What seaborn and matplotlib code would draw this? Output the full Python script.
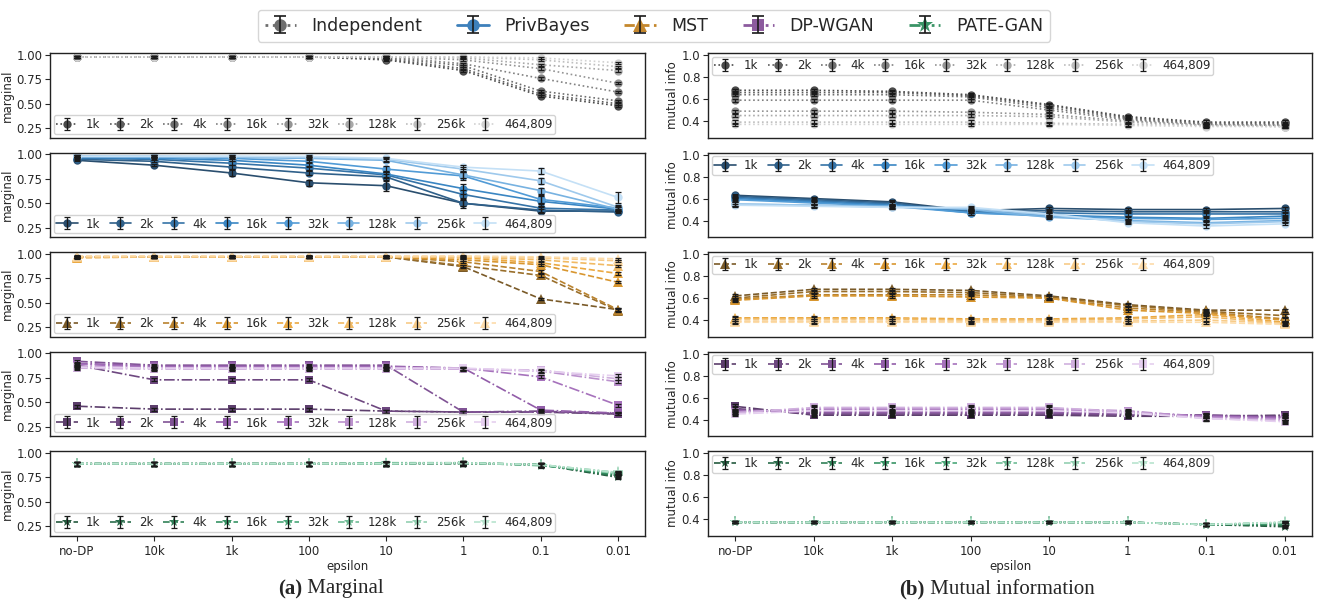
import numpy as np
import pandas as pd
import matplotlib
matplotlib.use("Agg")
import matplotlib.pyplot as plt
import seaborn as sns

# ---------------------------------------------------------------- data
eps_labels = ["no-DP", "10k", "1k", "100", "10", "1", "0.1", "0.01"]
sizes = ["1k", "2k", "4k", "16k", "32k", "128k", "256k", "464,809"]
methods = ["Independent", "PrivBayes", "MST", "DP-WGAN", "PATE-GAN"]

# marginal score, rows = training size, cols = epsilon
marg_independent = [
    [0.98, 0.98, 0.98, 0.98, 0.95, 0.84, 0.58, 0.48],
    [0.98, 0.98, 0.98, 0.98, 0.96, 0.86, 0.60, 0.50],
    [0.98, 0.98, 0.98, 0.98, 0.97, 0.89, 0.63, 0.53],
    [0.98, 0.98, 0.98, 0.98, 0.98, 0.91, 0.76, 0.62],
    [0.98, 0.98, 0.98, 0.98, 0.98, 0.95, 0.86, 0.71],
    [0.98, 0.98, 0.98, 0.98, 0.98, 0.97, 0.90, 0.84],
    [0.98, 0.98, 0.98, 0.98, 0.98, 0.98, 0.95, 0.88],
    [0.98, 0.98, 0.98, 0.98, 0.98, 0.98, 0.97, 0.92],
]
marg_privbayes = [
    [0.94, 0.89, 0.81, 0.71, 0.68, 0.50, 0.42, 0.42],
    [0.95, 0.93, 0.87, 0.81, 0.77, 0.50, 0.43, 0.41],
    [0.96, 0.95, 0.91, 0.86, 0.79, 0.59, 0.45, 0.43],
    [0.97, 0.96, 0.94, 0.89, 0.80, 0.65, 0.52, 0.44],
    [0.98, 0.97, 0.96, 0.93, 0.85, 0.78, 0.54, 0.45],
    [0.98, 0.98, 0.97, 0.96, 0.94, 0.79, 0.63, 0.44],
    [0.98, 0.98, 0.98, 0.97, 0.95, 0.85, 0.73, 0.46],
    [0.98, 0.98, 0.98, 0.98, 0.96, 0.87, 0.83, 0.56],
]
marg_privbayes_err = [
    [0.01, 0.01, 0.03, 0.03, 0.05, 0.03, 0.02, 0.01],
    [0.01, 0.01, 0.02, 0.02, 0.03, 0.05, 0.03, 0.01],
    [0.01, 0.01, 0.02, 0.02, 0.03, 0.05, 0.04, 0.01],
    [0.01, 0.01, 0.01, 0.02, 0.03, 0.05, 0.05, 0.02],
    [0.01, 0.01, 0.01, 0.01, 0.03, 0.04, 0.04, 0.02],
    [0.01, 0.01, 0.01, 0.01, 0.02, 0.03, 0.03, 0.02],
    [0.01, 0.01, 0.01, 0.01, 0.02, 0.02, 0.03, 0.02],
    [0.01, 0.01, 0.01, 0.01, 0.01, 0.02, 0.03, 0.06],
]
marg_mst = [
    [0.97, 0.97, 0.97, 0.97, 0.97, 0.87, 0.54, 0.43],
    [0.97, 0.97, 0.97, 0.97, 0.97, 0.88, 0.78, 0.42],
    [0.97, 0.97, 0.97, 0.97, 0.97, 0.92, 0.82, 0.43],
    [0.97, 0.97, 0.97, 0.97, 0.97, 0.94, 0.89, 0.71],
    [0.96, 0.97, 0.97, 0.97, 0.97, 0.96, 0.91, 0.80],
    [0.97, 0.97, 0.97, 0.97, 0.97, 0.97, 0.94, 0.88],
    [0.97, 0.97, 0.97, 0.97, 0.97, 0.97, 0.96, 0.93],
    [0.98, 0.98, 0.98, 0.98, 0.98, 0.98, 0.97, 0.95],
]
marg_dpwgan = [
    [0.46, 0.43, 0.43, 0.43, 0.41, 0.40, 0.40, 0.38],
    [0.88, 0.73, 0.73, 0.73, 0.41, 0.40, 0.41, 0.38],
    [0.92, 0.88, 0.88, 0.88, 0.88, 0.40, 0.40, 0.39],
    [0.90, 0.87, 0.87, 0.87, 0.87, 0.85, 0.42, 0.39],
    [0.89, 0.86, 0.86, 0.86, 0.86, 0.85, 0.76, 0.47],
    [0.87, 0.85, 0.85, 0.85, 0.85, 0.84, 0.82, 0.71],
    [0.85, 0.84, 0.84, 0.84, 0.84, 0.84, 0.83, 0.74],
    [0.86, 0.85, 0.85, 0.85, 0.85, 0.85, 0.82, 0.77],
]
marg_pategan = [
    [0.89, 0.89, 0.89, 0.89, 0.89, 0.89, 0.88, 0.75],
    [0.89, 0.89, 0.89, 0.89, 0.89, 0.89, 0.88, 0.76],
    [0.89, 0.89, 0.89, 0.89, 0.89, 0.90, 0.88, 0.77],
    [0.89, 0.89, 0.89, 0.89, 0.89, 0.90, 0.88, 0.78],
    [0.89, 0.89, 0.89, 0.89, 0.89, 0.90, 0.87, 0.79],
    [0.89, 0.89, 0.89, 0.89, 0.90, 0.90, 0.88, 0.80],
    [0.89, 0.89, 0.89, 0.89, 0.89, 0.89, 0.88, 0.79],
    [0.89, 0.89, 0.89, 0.89, 0.89, 0.90, 0.88, 0.80],
]

# mutual information score, rows = training size, cols = epsilon
mi_independent = [
    [0.68, 0.68, 0.67, 0.64, 0.55, 0.44, 0.39, 0.39],
    [0.66, 0.66, 0.66, 0.63, 0.54, 0.43, 0.38, 0.38],
    [0.64, 0.64, 0.64, 0.62, 0.52, 0.42, 0.37, 0.37],
    [0.59, 0.59, 0.59, 0.59, 0.50, 0.41, 0.37, 0.36],
    [0.49, 0.49, 0.49, 0.48, 0.46, 0.40, 0.36, 0.36],
    [0.45, 0.45, 0.45, 0.45, 0.44, 0.39, 0.36, 0.35],
    [0.39, 0.39, 0.39, 0.39, 0.38, 0.37, 0.36, 0.35],
    [0.37, 0.37, 0.37, 0.37, 0.37, 0.36, 0.35, 0.35],
]
mi_privbayes = [
    [0.63, 0.60, 0.57, 0.49, 0.51, 0.50, 0.50, 0.51],
    [0.62, 0.59, 0.56, 0.48, 0.49, 0.48, 0.48, 0.48],
    [0.61, 0.58, 0.55, 0.48, 0.47, 0.46, 0.46, 0.46],
    [0.60, 0.57, 0.54, 0.47, 0.45, 0.43, 0.42, 0.44],
    [0.59, 0.56, 0.53, 0.47, 0.44, 0.42, 0.41, 0.42],
    [0.55, 0.54, 0.53, 0.50, 0.43, 0.40, 0.38, 0.40],
    [0.55, 0.54, 0.52, 0.51, 0.45, 0.39, 0.37, 0.39],
    [0.54, 0.53, 0.52, 0.52, 0.46, 0.38, 0.35, 0.37],
]
mi_mst = [
    [0.62, 0.68, 0.68, 0.67, 0.62, 0.54, 0.49, 0.49],
    [0.60, 0.66, 0.66, 0.65, 0.61, 0.53, 0.48, 0.44],
    [0.59, 0.63, 0.63, 0.63, 0.60, 0.51, 0.47, 0.41],
    [0.58, 0.62, 0.62, 0.61, 0.60, 0.49, 0.46, 0.40],
    [0.42, 0.42, 0.42, 0.41, 0.41, 0.42, 0.45, 0.38],
    [0.41, 0.41, 0.41, 0.40, 0.40, 0.41, 0.43, 0.37],
    [0.39, 0.39, 0.39, 0.39, 0.39, 0.39, 0.40, 0.37],
    [0.38, 0.38, 0.38, 0.38, 0.38, 0.38, 0.38, 0.36],
]
mi_dpwgan = [
    [0.52, 0.44, 0.44, 0.44, 0.44, 0.43, 0.43, 0.44],
    [0.50, 0.45, 0.45, 0.45, 0.45, 0.44, 0.44, 0.43],
    [0.49, 0.46, 0.46, 0.46, 0.46, 0.45, 0.44, 0.42],
    [0.48, 0.47, 0.47, 0.47, 0.47, 0.46, 0.43, 0.42],
    [0.47, 0.49, 0.49, 0.49, 0.49, 0.47, 0.43, 0.41],
    [0.47, 0.50, 0.50, 0.50, 0.50, 0.48, 0.42, 0.40],
    [0.46, 0.51, 0.51, 0.51, 0.51, 0.47, 0.41, 0.39],
    [0.45, 0.48, 0.48, 0.48, 0.48, 0.46, 0.41, 0.38],
]
mi_pategan = [
    [0.37, 0.37, 0.37, 0.37, 0.37, 0.37, 0.35, 0.33],
    [0.37, 0.37, 0.37, 0.37, 0.37, 0.37, 0.35, 0.34],
    [0.37, 0.37, 0.37, 0.37, 0.37, 0.37, 0.35, 0.35],
    [0.37, 0.37, 0.37, 0.37, 0.37, 0.37, 0.35, 0.36],
    [0.37, 0.37, 0.37, 0.37, 0.37, 0.37, 0.35, 0.36],
    [0.37, 0.37, 0.37, 0.37, 0.37, 0.37, 0.35, 0.37],
    [0.37, 0.37, 0.37, 0.37, 0.37, 0.37, 0.35, 0.37],
    [0.37, 0.37, 0.37, 0.37, 0.37, 0.37, 0.35, 0.37],
]

marginal_scores = [marg_independent, marg_privbayes, marg_mst, marg_dpwgan, marg_pategan]
mi_scores = [mi_independent, mi_privbayes, mi_mst, mi_dpwgan, mi_pategan]
marginal_errs = [0.012, marg_privbayes_err, 0.012, 0.015, 0.02]
mi_errs = [0.015, 0.015, 0.015, 0.02, 0.01]

# ---------------------------------------------------------------- style
sns.set_theme(style="ticks")
plt.rcParams["font.family"] = ["DejaVu Sans"]
plt.rcParams["axes.edgecolor"] = "#222222"
plt.rcParams["axes.linewidth"] = 1.0

method_colors = ["#6e6e6e", "#3d80bb", "#c4872d", "#8c5b9e", "#3a9466"]
method_ramps = [
    ["#4a4a4a", "#8a8a8a", "#d2d2d2"],
    ["#2a4e6e", "#3d8fd1", "#c4e0f6"],
    ["#7a5a28", "#e8a030", "#fddcaa"],
    ["#5c3e6c", "#9b62b3", "#e5cfef"],
    ["#245a3e", "#3a9e6c", "#b8e4ce"],
]
method_ls = [":", "-", "--", "-.", (0, (4, 1.5, 1, 1.5, 1, 1.5))]
method_markers = ["o", "o", "^", "s", "*"]
marker_size = {"o": 6, "^": 6.5, "s": 6, "*": 8}

W, H = 1317, 603
fig = plt.figure(figsize=(W / 100, H / 100), dpi=100)

col_x = [(50, 645), (708, 1312)]
row_top0, row_step, row_h = 53, 99.5, 84.5


def add_panel(col, row):
    x0, x1 = col_x[col]
    top = row_top0 + row * row_step
    return fig.add_axes([x0 / W, 1 - (top + row_h) / H, (x1 - x0) / W, row_h / H])


xpos = np.arange(len(eps_labels))


def draw_panel(ax, scores, err, m):
    pal = sns.blend_palette(method_ramps[m], len(sizes))
    mk = method_markers[m]
    rows = []
    for s, vals in zip(sizes, scores):
        for xi, v in zip(xpos, vals):
            rows.append({"eps": xi, "score": v, "size": s})
    df = pd.DataFrame(rows)
    sns.lineplot(data=df, x="eps", y="score", hue="size", hue_order=sizes,
                 palette=pal, linestyle=method_ls[m], marker=mk,
                 markersize=marker_size[mk], markeredgewidth=0, linewidth=1.2,
                 legend=False, ax=ax, estimator=None, sort=False)
    handles = []
    for i, (s, vals) in enumerate(zip(sizes, scores)):
        e = err if np.isscalar(err) else err[i]
        eb = ax.errorbar(xpos, vals, yerr=e, fmt="none", ecolor="#1a1a1a",
                         elinewidth=0.9, capsize=2.5, capthick=0.9, zorder=3)
        ln = plt.Line2D([], [], color=pal[i], ls=method_ls[m], marker=mk,
                        mew=0, lw=1.2, ms=marker_size[mk])
        handles.append((ln, eb))
    return handles


last_ax = None
for m in range(len(methods)):
    for col, (data, errs, ylabel) in enumerate(
            [(marginal_scores, marginal_errs, "marginal"),
             (mi_scores, mi_errs, "mutual info")]):
        ax = add_panel(col, m)
        handles = draw_panel(ax, data[m], errs[m], m)
        ax.set_xlim(-0.35, 7.35)
        if col == 0:
            ax.set_ylim(0.155, 1.02)
            ax.set_yticks([0.25, 0.50, 0.75, 1.00])
            ax.set_yticklabels(["0.25", "0.50", "0.75", "1.00"])
        else:
            ax.set_ylim(0.25, 1.02)
            ax.set_yticks([0.4, 0.6, 0.8, 1.0])
            ax.set_yticklabels(["0.4", "0.6", "0.8", "1.0"])
        ax.set_ylabel(ylabel, fontsize=8.5, labelpad=2)
        ax.set_xticks(xpos)
        ax.tick_params(axis="y", labelsize=8.5, length=3.5, width=0.8, pad=2)
        if m == len(methods) - 1:
            ax.set_xticklabels(eps_labels)
            ax.tick_params(axis="x", labelsize=8.5, length=3.5, width=0.8, pad=3)
            ax.set_xlabel("epsilon", fontsize=8.5, labelpad=2)
        else:
            ax.tick_params(axis="x", bottom=False, labelbottom=False)
            ax.set_xlabel("")
        ax.legend(handles, sizes, ncol=8, fontsize=8.5,
                  loc="lower left" if col == 0 else "upper left",
                  handlelength=1.8, handletextpad=0.7, columnspacing=0.8,
                  borderpad=0.25, borderaxespad=0.3, framealpha=0.85,
                  edgecolor="#cccccc", fancybox=True)
        last_ax = ax

# figure-wide method legend, each handle with a sample error bar
top_handles = []
for m in range(len(methods)):
    mk = method_markers[m]
    ln = plt.Line2D([], [], color=method_colors[m], ls=method_ls[m],
                    marker=mk, mew=0, lw=2, ms=marker_size[mk] * 1.5)
    eb = last_ax.errorbar([-50], [0.5], yerr=0.1, fmt="none", ecolor="#1a1a1a",
                          elinewidth=1.2, capsize=4, capthick=1.2)
    top_handles.append((ln, eb))
fig.legend(top_handles, methods, loc="upper center", ncol=5,
           bbox_to_anchor=(654 / W, 1 - 1 / H), fontsize=12.5,
           handlelength=1.8, handletextpad=0.9, columnspacing=2.0,
           borderpad=0.4, edgecolor="#cccccc", fancybox=True)

# panel captions
serif = ["Liberation Serif", "DejaVu Serif"]
cap_y = 1 - 589 / H
fig.text(302 / W, cap_y, "(a)", fontsize=15, fontweight="bold",
         family=serif, ha="right", va="center")
fig.text(302 / W, cap_y, " Marginal", fontsize=15, family=serif,
         ha="left", va="center")
fig.text(925 / W, cap_y, "(b)", fontsize=15, fontweight="bold",
         family=serif, ha="right", va="center")
fig.text(925 / W, cap_y, " Mutual information", fontsize=15, family=serif,
         ha="left", va="center")

fig.savefig("out.png", dpi=100)
